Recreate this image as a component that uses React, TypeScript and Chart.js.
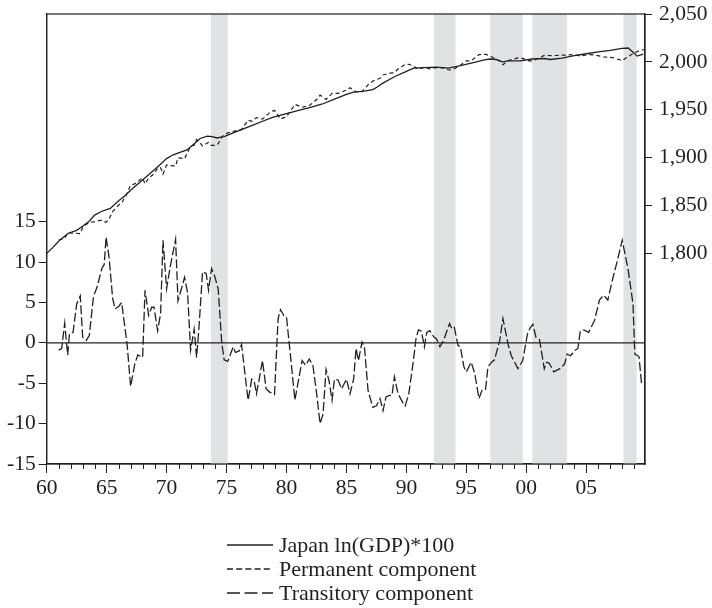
import { useEffect, useRef } from "react";
import { Chart, registerables } from "chart.js";

Chart.register(...registerables);

// ---------- data ----------
const gdpYears = [1960.0, 1960.5, 1961.1, 1961.8, 1962.5, 1962.9, 1963.5, 1964.0, 1964.6, 1965.3, 1966.0, 1966.5, 1967.0, 1967.8, 1968.5, 1969.4, 1970.0, 1970.5, 1971.0, 1971.7, 1972.3, 1972.8, 1973.4, 1973.8, 1974.2, 1974.8, 1975.5, 1976.3, 1977.2, 1978.0, 1978.9, 1980.0, 1981.1, 1982.0, 1983.0, 1984.0, 1985.0, 1985.6, 1986.5, 1987.2, 1987.6, 1988.0, 1989.0, 1990.0, 1990.6, 1991.5, 1992.5, 1993.5, 1994.5, 1995.5, 1996.5, 1997.0, 1997.5, 1998.0, 1998.5, 1999.5, 2000.5, 2001.5, 2002.0, 2003.0, 2004.0, 2005.0, 2006.0, 2007.0, 2008.0, 2008.5, 2009.0, 2009.25, 2009.75];
const gdpValues = [1800, 1806, 1814, 1821, 1824, 1827.5, 1833, 1840, 1844, 1847, 1855, 1860, 1866, 1874.5, 1882, 1892, 1899, 1902.7, 1905, 1908, 1914.5, 1920, 1922.5, 1922, 1920.5, 1922, 1925.5, 1929.5, 1934, 1938, 1942.4, 1946, 1949.7, 1952.5, 1956, 1961, 1966, 1968.5, 1969.5, 1971, 1974, 1977.5, 1984.5, 1990, 1993.5, 1994, 1994.5, 1993.5, 1996, 1999, 2002, 2003, 2002.5, 2000, 2001, 2001, 2003, 2003.5, 2002.5, 2004, 2006.5, 2008.5, 2010.5, 2012, 2014, 2014.5, 2009, 2006, 2008];

const permYears = [1961.0, 1961.5, 1961.75, 1962.2, 1962.8, 1963.0, 1963.55, 1963.9, 1964.6, 1964.95, 1965.2, 1965.5, 1966.0, 1966.25, 1966.7, 1967.0, 1967.35, 1968.0, 1968.2, 1968.5, 1968.95, 1969.25, 1969.5, 1969.7, 1970.0, 1970.3, 1970.75, 1970.95, 1971.5, 1972.0, 1972.3, 1972.5, 1972.7, 1973.0, 1973.5, 1973.75, 1974.0, 1974.3, 1974.6, 1975.1, 1975.75, 1976.25, 1976.8, 1977.1, 1977.5, 1978.0, 1978.6, 1979.0, 1979.5, 1980.0, 1980.4, 1980.7, 1981.3, 1981.9, 1982.5, 1982.8, 1983.3, 1983.8, 1984.3, 1985.0, 1985.3, 1985.8, 1986.3, 1986.8, 1987.2, 1987.8, 1988.05, 1988.6, 1989.0, 1989.3, 1989.9, 1990.2, 1990.55, 1991.0, 1991.5, 1991.95, 1992.5, 1993.1, 1993.6, 1994.0, 1994.5, 1995.0, 1995.4, 1996.05, 1996.6, 1997.1, 1997.8, 1998.05, 1998.5, 1999.3, 1999.7, 2000.3, 2000.8, 2001.5, 2002.3, 2003.2, 2004.0, 2004.5, 2005.2, 2005.7, 2006.45, 2007.2, 2008.0, 2008.5, 2009.05, 2009.6, 2009.8];
const permValues = [1814, 1815.6, 1821.5, 1821.2, 1820.7, 1827.3, 1832.6, 1832.8, 1834.8, 1832.4, 1835.9, 1843.5, 1850.5, 1852.5, 1862.6, 1871.4, 1872.6, 1878.8, 1872.5, 1878.6, 1883.1, 1889, 1889.4, 1882.8, 1892.3, 1891.6, 1891.2, 1899.8, 1898.9, 1911.9, 1912.8, 1918.8, 1916.6, 1912.2, 1916, 1912.8, 1912.7, 1914.5, 1921.7, 1925.8, 1927.9, 1929.5, 1939.1, 1938, 1941.8, 1940.2, 1947.1, 1949.4, 1940.4, 1942.8, 1950, 1955.6, 1952.6, 1954.2, 1960.4, 1965.3, 1960.8, 1967.1, 1967.1, 1970.5, 1973, 1968.7, 1969, 1976, 1979.9, 1982.9, 1986.3, 1988.2, 1988.7, 1992.5, 1997.3, 1997.5, 1995.9, 1992.1, 1994.5, 1992.7, 1994, 1993.7, 1991.3, 1992.9, 1996.5, 2001.1, 2001.1, 2007.5, 2008, 2005.3, 2000.6, 1997.1, 2001.3, 2004.2, 2003.6, 2000.8, 2002.5, 2006.7, 2006.6, 2007.1, 2007.5, 2006.1, 2007.6, 2007.1, 2005.3, 2004.5, 2001.3, 2005.5, 2009.8, 2012.3, 2012.7];

const transYears = [1961.0, 1961.25, 1961.5, 1961.75, 1961.9, 1962.2, 1962.5, 1962.8, 1963.0, 1963.3, 1963.55, 1963.9, 1964.2, 1964.6, 1964.8, 1964.95, 1965.2, 1965.5, 1965.7, 1966.0, 1966.25, 1966.7, 1967.0, 1967.35, 1967.6, 1968.0, 1968.2, 1968.5, 1968.75, 1968.95, 1969.25, 1969.5, 1969.7, 1970.0, 1970.3, 1970.75, 1970.95, 1971.2, 1971.5, 1971.75, 1972.0, 1972.3, 1972.5, 1972.7, 1973.0, 1973.3, 1973.5, 1973.75, 1974.0, 1974.3, 1974.6, 1974.8, 1975.1, 1975.55, 1975.75, 1976.05, 1976.25, 1976.7, 1976.8, 1977.1, 1977.3, 1977.5, 1978.0, 1978.3, 1978.6, 1979.0, 1979.3, 1979.5, 1979.8, 1980.0, 1980.4, 1980.7, 1981.1, 1981.3, 1981.6, 1981.9, 1982.2, 1982.5, 1982.8, 1983.05, 1983.3, 1983.55, 1983.8, 1984.0, 1984.3, 1984.6, 1985.0, 1985.3, 1985.6, 1985.8, 1986.0, 1986.3, 1986.5, 1986.8, 1987.2, 1987.5, 1987.8, 1988.05, 1988.3, 1988.6, 1988.8, 1989.0, 1989.3, 1989.7, 1989.9, 1990.2, 1990.55, 1990.8, 1991.0, 1991.25, 1991.5, 1991.7, 1991.95, 1992.3, 1992.5, 1992.8, 1993.1, 1993.6, 1993.8, 1994.0, 1994.3, 1994.5, 1994.8, 1995.0, 1995.4, 1995.7, 1996.05, 1996.3, 1996.6, 1996.8, 1997.1, 1997.35, 1997.8, 1998.05, 1998.5, 1998.75, 1999.3, 1999.7, 2000.1, 2000.3, 2000.55, 2000.8, 2001.1, 2001.5, 2001.7, 2001.9, 2002.3, 2002.8, 2003.2, 2003.4, 2003.7, 2004.0, 2004.3, 2004.5, 2004.8, 2005.2, 2005.7, 2006.1, 2006.45, 2006.8, 2007.2, 2007.6, 2008.0, 2008.5, 2008.9, 2009.05, 2009.4, 2009.6, 2009.8];
const transValues = [-0.9, -0.7, 2.4, -1.5, 1.1, 1.3, 4.8, 5.8, 0.7, 0.3, 0.9, 5.7, 6.9, 9.2, 9.7, 13.1, 10.6, 5.5, 4.2, 4.5, 5.0, -0.1, -5.4, -2.6, -1.5, -1.8, 6.5, 3.4, 4.4, 4.4, 1.5, 3.6, 12.7, 6.7, 9.4, 12.8, 5.2, 6.5, 8.1, 6.2, -0.9, 1.7, -1.8, 1.9, 8.8, 8.6, 6.5, 9.2, 8.3, 6.7, 0.0, -2.1, -2.3, -0.5, -1.2, -1.0, -0.2, -5.9, -7.1, -4.5, -4.7, -6.3, -2.2, -5.7, -6.1, -6.4, 3.0, 4.1, 3.3, 3.2, -2.6, -7.1, -3.8, -2.2, -2.8, -2.0, -2.8, -6.1, -10.0, -8.8, -3.3, -4.7, -7.1, -4.5, -4.6, -5.7, -4.5, -6.3, -4.5, -0.7, -2.2, 0.1, -0.5, -5.9, -8.0, -7.8, -6.9, -8.4, -6.7, -6.5, -6.5, -4.2, -6.3, -7.4, -7.8, -6.3, -2.6, 0.5, 1.6, 1.45, -0.5, 1.3, 1.5, 0.7, 0.5, -0.5, 0.3, 2.4, 1.7, 1.9, -0.3, -0.5, -3.0, -3.6, -2.4, -3.8, -6.9, -5.9, -5.8, -3.0, -2.4, -2.1, 0.4, 3.0, -0.3, -1.6, -3.2, -2.2, 1.1, 1.8, 2.3, 0.7, 0.4, -3.2, -2.4, -2.5, -3.6, -3.2, -2.6, -1.4, -1.6, -1.0, -0.7, 1.4, 1.6, 1.3, 2.8, 5.3, 5.9, 5.3, 7.9, 10.2, 12.7, 9.0, 4.8, -1.4, -1.7, -4.9, -4.7];

const recessionStarts = [1973.7, 1992.3, 1997.0, 2000.5, 2008.1];
const recessionEnds = [1975.1, 1994.1, 1999.7, 2003.4, 2009.2];

const xTickYears = [1960, 1965, 1970, 1975, 1980, 1985, 1990, 1995, 2000, 2005];
const leftTicks = [-15, -10, -5, 0, 5, 10, 15];
const rightTicks = [1800, 1850, 1900, 1950, 2000, 2050];
const legendLabels = ["Japan ln(GDP)*100", "Permanent component", "Transitory component"];

// ---------- styles ----------
const INK = "#231f20";
const BAND = "#e1e2e4";
const FONT = "'Liberation Serif', 'Times New Roman', serif";
const TICK_SIZE = 21.5;
const LEGEND_SIZE = 22;
const DASH_PERM = [4, 3];
const DASH_TRANS = [9, 3];

const toPoints = (xs: number[], ys: number[]) => xs.map((x, i) => ({ x, y: ys[i] }));

const decorPlugin = {
  id: "decor",
  beforeDatasetsDraw(chart: any) {
    const { ctx, chartArea, scales } = chart;
    const xs = scales.x;
    ctx.save();
    ctx.fillStyle = BAND;
    recessionStarts.forEach((s, i) => {
      const x0 = xs.getPixelForValue(s);
      const x1 = xs.getPixelForValue(recessionEnds[i]);
      ctx.fillRect(x0, chartArea.top, x1 - x0, chartArea.bottom - chartArea.top);
    });
    const y0 = scales.y.getPixelForValue(0);
    ctx.strokeStyle = INK;
    ctx.lineWidth = 1.2;
    ctx.beginPath();
    ctx.moveTo(chartArea.left, y0);
    ctx.lineTo(chartArea.right, y0);
    ctx.stroke();
    ctx.restore();
  },
  afterDraw(chart: any) {
    const { ctx, chartArea, scales } = chart;
    const xs = scales.x;
    ctx.save();
    ctx.strokeStyle = INK;
    ctx.lineWidth = 1.2;
    ctx.strokeRect(chartArea.left, chartArea.top, chartArea.right - chartArea.left, chartArea.bottom - chartArea.top);
    // minor yearly ticks
    ctx.lineWidth = 1;
    ctx.beginPath();
    for (let yr = Math.ceil(xs.min); yr <= xs.max; yr++) {
      if (yr % 5 === 0) continue;
      const px = Math.round(xs.getPixelForValue(yr)) + 0.5;
      ctx.moveTo(px, chartArea.bottom);
      ctx.lineTo(px, chartArea.bottom + 5);
    }
    ctx.stroke();
    // legend
    const lx0 = 227;
    const lx1 = 273;
    const tx = 279;
    const rows = [545, 569, 593];
    const dashes = [[], [6, 3.2], [13, 4.5]];
    ctx.font = `${LEGEND_SIZE}px ${FONT}`;
    ctx.textBaseline = "middle";
    ctx.textAlign = "left";
    ctx.fillStyle = INK;
    legendLabels.forEach((label, i) => {
      ctx.setLineDash(dashes[i]);
      ctx.lineWidth = 1.3;
      ctx.beginPath();
      ctx.moveTo(lx0, rows[i]);
      ctx.lineTo(lx1, rows[i]);
      ctx.stroke();
      ctx.setLineDash([]);
      ctx.fillText(label, tx, rows[i] + 1);
    });
    ctx.restore();
  },
};

const noPad = (s: any) => {
  s.paddingTop = 0;
  s.paddingBottom = 0;
  s.paddingLeft = 0;
  s.paddingRight = 0;
};

export default function App() {
  const ref = useRef<HTMLCanvasElement>(null);
  useEffect(() => {
    if (!ref.current) return;
    const tickFont = { family: FONT, size: TICK_SIZE };
    const chart = new Chart(ref.current, {
      type: "line",
      data: {
        datasets: [
          {
            label: legendLabels[0],
            data: toPoints(gdpYears, gdpValues),
            yAxisID: "yR",
            borderColor: INK,
            borderWidth: 1.3,
            pointRadius: 0,
            tension: 0,
          },
          {
            label: legendLabels[1],
            data: toPoints(permYears, permValues),
            yAxisID: "yR",
            borderColor: INK,
            borderWidth: 1.2,
            borderDash: DASH_PERM,
            pointRadius: 0,
            tension: 0,
          },
          {
            label: legendLabels[2],
            data: toPoints(transYears, transValues),
            yAxisID: "y",
            borderColor: INK,
            borderWidth: 1.3,
            borderDash: DASH_TRANS,
            pointRadius: 0,
            tension: 0,
          },
        ],
      },
      options: {
        animation: false,
        responsive: false,
        devicePixelRatio: 1,
        layout: { padding: { top: 14, left: 0, right: 0, bottom: 0 } },
        plugins: { legend: { display: false }, tooltip: { enabled: false } },
        scales: {
          x: {
            type: "linear",
            min: 1960,
            max: 2009.9,
            afterBuildTicks: (s: any) => {
              s.ticks = xTickYears.map((v) => ({ value: v }));
            },
            afterFit: (s: any) => {
              s.height = 144;
              noPad(s);
            },
            ticks: {
              color: INK,
              font: tickFont,
              padding: 2,
              maxRotation: 0,
              autoSkip: false,
              callback: (v: any) => String(Number(v) % 100).padStart(2, "0"),
            },
            grid: { drawOnChartArea: false, tickLength: 9, color: INK, tickWidth: 1 },
            border: { color: INK, width: 1.2 },
          },
          y: {
            position: "left",
            min: -15,
            max: 40.7,
            afterBuildTicks: (s: any) => {
              s.ticks = leftTicks.map((v) => ({ value: v }));
            },
            afterFit: (s: any) => {
              s.width = 46.7;
              noPad(s);
            },
            ticks: { color: INK, font: tickFont, padding: 3, callback: (v: any) => String(v) },
            grid: { drawOnChartArea: false, tickLength: 8, color: INK, tickWidth: 1 },
            border: { color: INK, width: 1.2 },
          },
          yR: {
            position: "right",
            min: 1580,
            max: 2050,
            afterBuildTicks: (s: any) => {
              s.ticks = rightTicks.map((v) => ({ value: v }));
            },
            afterFit: (s: any) => {
              s.width = 67;
              noPad(s);
            },
            ticks: {
              color: INK,
              font: tickFont,
              padding: 7,
              callback: (v: any) => Number(v).toLocaleString("en-US"),
            },
            grid: { drawOnChartArea: false, tickLength: 7, color: INK, tickWidth: 1 },
            border: { color: INK, width: 1.2 },
          },
        },
      },
      plugins: [decorPlugin],
    } as any);
    return () => chart.destroy();
  }, []);
  return (
    <div style={{ position: "absolute", left: 0, top: 0, width: 712, height: 608 }}>
      <canvas ref={ref} width={712} height={608} style={{ display: "block" }} />
    </div>
  );
}
